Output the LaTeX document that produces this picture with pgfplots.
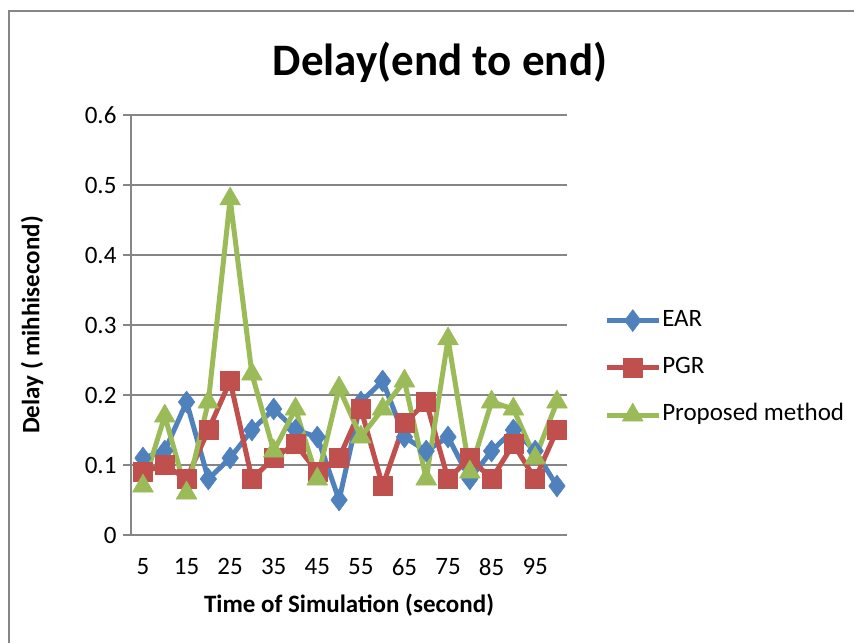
\documentclass[border=0pt]{standalone}
\usepackage{fontspec}
\setmainfont{Carlito}
\usepackage{pgfplots}
\pgfplotsset{compat=1.18}

\definecolor{earblue}{HTML}{4F81BD}
\definecolor{pgrred}{HTML}{C0504D}
\definecolor{propgreen}{HTML}{9BBB59}
\definecolor{gridgray}{HTML}{868686}

\pgfplotstableread{
x    ear   pgr   prop
5    0.11  0.09  0.07
10   0.12  0.10  0.17
15   0.19  0.08  0.06
20   0.08  0.15  0.19
25   0.11  0.22  0.48
30   0.15  0.08  0.23
35   0.18  0.11  0.12
40   0.15  0.13  0.18
45   0.14  0.09  0.08
50   0.05  0.11  0.21
55   0.19  0.18  0.14
60   0.22  0.07  0.18
65   0.14  0.16  0.22
70   0.12  0.19  0.08
75   0.14  0.08  0.28
80   0.08  0.11  0.09
85   0.12  0.08  0.19
90   0.15  0.13  0.18
95   0.12  0.08  0.11
100  0.07  0.15  0.19
}\delaydata

\begin{document}
\begin{tikzpicture}[x=1pt,y=1pt]
\useasboundingbox (0,0) rectangle (854,643);
% chart frame
\draw[gridgray, line width=2pt] (9,0) -- (9,632) -- (854,632);
\node[font=\fontsize{45}{50}\selectfont\bfseries] at (440,581) {Delay(end to end)};
\begin{axis}[
    at={(131pt,108pt)}, anchor=south west,
    width=436pt, height=420pt, scale only axis,
    xmin=2.25, xmax=102.3,
    ymin=0, ymax=0.6,
    xtick={5,15,...,95},
    ytick={0,0.1,...,0.6},
    yticklabel style={/pgf/number format/fixed, /pgf/number format/precision=1},
    /pgf/number format/assume math mode=true,
    axis lines*=left,
    axis line style={gridgray, line width=1.5pt},
    x axis line style={-},
    y axis line style={-},
    ymajorgrids=true,
    grid style={gridgray, line width=1.5pt},
    major x tick style={draw=none},
    major y tick style={gridgray, line width=1.5pt},
    tick align=outside,
    major tick length=8pt,
    ticklabel style={font=\fontsize{25}{29}\selectfont},
    xticklabel shift=12pt,
    yticklabel shift=3pt,
    xlabel={\bfseries Time of Simulation (second)},
    ylabel={\bfseries Delay ( mihhisecond)},
    label style={font=\fontsize{25}{29}\selectfont},
    xlabel style={at={(axis description cs:0.5,-0.167)}, anchor=center},
    ylabel style={at={(axis description cs:-0.227,0.5)}, anchor=center},
    clip=false,
    legend style={
        at={(1.085,0.398)}, anchor=west,
        draw=none, fill=none, inner sep=0pt,
        font=\fontsize{25}{29}\selectfont,
        row sep=24pt,
        nodes={inner sep=1pt, text height=16pt, text depth=5pt},
    },
    legend cell align=left,
    legend image code/.code={
        \draw[mark repeat=2, mark phase=2]
            plot coordinates {(0pt,0pt) (26pt,0pt) (52pt,0pt)};
    },
    every axis plot/.append style={line width=5pt, line join=round},
]
\addplot[earblue, mark=diamond*, mark size=11pt, mark options={solid, line width=0.5pt}]
    table[x=x, y=ear] {\delaydata};
\addlegendentry{EAR}
\addplot[pgrred, mark=square*, mark size=9.5pt, mark options={solid, line width=0.5pt}]
    table[x=x, y=pgr] {\delaydata};
\addlegendentry{PGR}
\addplot[propgreen, mark=triangle*, mark size=12pt, mark options={solid, line width=0.5pt}]
    table[x=x, y=prop] {\delaydata};
\addlegendentry{Proposed method}
\end{axis}
\end{tikzpicture}
\end{document}
